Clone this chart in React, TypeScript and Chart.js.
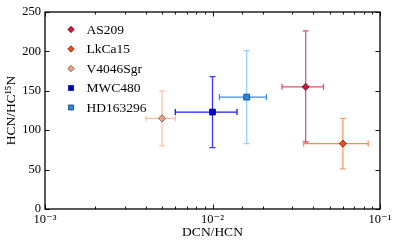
import React, { useEffect, useRef } from "react";
import { Chart, registerables } from "chart.js";

Chart.register(...registerables);

const names = ["AS209", "LkCa15", "V4046Sgr", "MWC480", "HD163296"];
const dcnHcn = [0.036, 0.06, 0.005, 0.01, 0.016];
const dcnLo = [0.026, 0.035, 0.004, 0.006, 0.011];
const dcnHi = [0.046, 0.085, 0.006, 0.014, 0.021];
const hcnRatio = [155, 83, 115, 123, 142];
const ratioLo = [85, 51, 80, 78, 83];
const ratioHi = [226, 115, 150, 168, 201];
const yTicks = [0, 50, 100, 150, 200, 250];

const markerFill = ["#d2143c", "#ff4a10", "#f5a080", "#0000d0", "#2a88e0"];
const markerEdge = ["#3a1010", "#3a1a10", "#5a4030", "#000060", "#103060"];
const markerStyle = ["rectRot", "rectRot", "rectRot", "rect", "rect"];
const xBarColor = ["#e0506e", "#ff8a5c", "#ffbfa0", "#1a1aff", "#3a8ee8"];
const yBarColor = ["#d9587a", "#ff9a70", "#ffc4a8", "#3a3aff", "#9ccfff"];

const FONT = "'Liberation Serif', 'DejaVu Serif', serif";

const isPow10 = (v: number) => {
  const l = Math.log10(v);
  return Math.abs(l - Math.round(l)) < 1e-9;
};
const supMap: Record<string, string> = { "-": "⁻", "0": "⁰", "1": "¹", "2": "²", "3": "³", "4": "⁴", "5": "⁵", "6": "⁶", "7": "⁷", "8": "⁸", "9": "⁹" };
const fmtPow = (v: number) => "10" + String(Math.round(Math.log10(v))).split("").map((c) => supMap[c] || c).join("");

function drawMarker(ctx: CanvasRenderingContext2D, style: string, x: number, y: number, r: number, fill: string, edge: string) {
  ctx.beginPath();
  if (style === "rectRot") {
    ctx.moveTo(x, y - r);
    ctx.lineTo(x + r, y);
    ctx.lineTo(x, y + r);
    ctx.lineTo(x - r, y);
    ctx.closePath();
  } else {
    const s = r * Math.SQRT1_2;
    ctx.rect(x - s, y - s, 2 * s, 2 * s);
  }
  ctx.fillStyle = fill;
  ctx.fill();
  ctx.lineWidth = 0.7;
  ctx.strokeStyle = edge;
  ctx.stroke();
}

const errorBarPlugin = {
  id: "errorBars",
  beforeDatasetsDraw(chart: any) {
    const ctx = chart.ctx as CanvasRenderingContext2D;
    const xs = chart.scales.x;
    const ys = chart.scales.y;
    const cap = 3;
    ctx.save();
    ctx.lineWidth = 1.3;
    for (let i = 0; i < names.length; i++) {
      const px = xs.getPixelForValue(dcnHcn[i]);
      const py = ys.getPixelForValue(hcnRatio[i]);
      const x0 = xs.getPixelForValue(dcnLo[i]);
      const x1 = xs.getPixelForValue(dcnHi[i]);
      const y0 = ys.getPixelForValue(ratioLo[i]);
      const y1 = ys.getPixelForValue(ratioHi[i]);
      ctx.strokeStyle = yBarColor[i];
      ctx.beginPath();
      ctx.moveTo(px, y0);
      ctx.lineTo(px, y1);
      ctx.moveTo(px - cap, y0);
      ctx.lineTo(px + cap, y0);
      ctx.moveTo(px - cap, y1);
      ctx.lineTo(px + cap, y1);
      ctx.stroke();
      ctx.strokeStyle = xBarColor[i];
      ctx.beginPath();
      ctx.moveTo(x0, py);
      ctx.lineTo(x1, py);
      ctx.moveTo(x0, py - cap);
      ctx.lineTo(x0, py + cap);
      ctx.moveTo(x1, py - cap);
      ctx.lineTo(x1, py + cap);
      ctx.stroke();
    }
    ctx.restore();
  },
};

const framePlugin = {
  id: "frameTicks",
  afterDraw(chart: any) {
    const ctx = chart.ctx as CanvasRenderingContext2D;
    const { left, right, top, bottom } = chart.chartArea;
    const xs = chart.scales.x;
    const ys = chart.scales.y;
    ctx.save();
    ctx.strokeStyle = "#111";
    ctx.lineWidth = 1;
    ctx.beginPath();
    for (const t of xs.ticks) {
      const v = t.value;
      if (v < xs.min - 1e-12 || v > xs.max + 1e-12) continue;
      const p = Math.round(xs.getPixelForValue(v)) + 0.5;
      const len = isPow10(v) ? 4.5 : 2.5;
      ctx.moveTo(p, bottom);
      ctx.lineTo(p, bottom - len);
      ctx.moveTo(p, top);
      ctx.lineTo(p, top + len);
    }
    for (const t of ys.ticks) {
      const p = Math.round(ys.getPixelForValue(t.value)) + 0.5;
      ctx.moveTo(left, p);
      ctx.lineTo(left + 4.5, p);
      ctx.moveTo(right, p);
      ctx.lineTo(right - 4.5, p);
    }
    ctx.stroke();
    ctx.lineWidth = 1.3;
    ctx.strokeStyle = "#000";
    ctx.strokeRect(left, top, right - left, bottom - top);
    ctx.font = `13.5px ${FONT}`;
    ctx.textBaseline = "middle";
    ctx.textAlign = "left";
    for (let i = 0; i < names.length; i++) {
      const ly = top + 17.5 + i * 19.5;
      const r = markerStyle[i] === "rectRot" ? 3.2 : 3.6;
      drawMarker(ctx, markerStyle[i], left + 26, ly, r, markerFill[i], markerEdge[i]);
      ctx.fillStyle = "#000";
      ctx.fillText(names[i], left + 41.5, ly + 0.5);
    }
    ctx.restore();
  },
};

export default function App() {
  const ref = useRef<HTMLCanvasElement | null>(null);
  useEffect(() => {
    document.body.style.margin = "0";
    const canvas = ref.current!;
    const chart = new Chart(canvas, {
      type: "scatter",
      data: {
        datasets: names.map((n, i) => ({
          label: n,
          data: [{ x: dcnHcn[i], y: hcnRatio[i] }],
          pointStyle: markerStyle[i] as any,
          pointRadius: markerStyle[i] === "rectRot" ? 3.6 : 4.2,
          pointBackgroundColor: markerFill[i],
          pointBorderColor: markerEdge[i],
          pointBorderWidth: 0.7,
          showLine: false,
        })),
      },
      options: {
        responsive: false,
        animation: false,
        devicePixelRatio: 1,
        layout: { padding: { top: 12, right: 19, left: 0, bottom: 0 } },
        plugins: { legend: { display: false }, tooltip: { enabled: false } },
        scales: {
          x: {
            type: "logarithmic",
            min: 0.001,
            max: 0.1,
            grid: { display: false, drawTicks: false },
            border: { display: false },
            ticks: {
              autoSkip: false,
              maxRotation: 0,
              padding: 3,
              color: "#000",
              font: { family: FONT, size: 12.5 },
              callback: (v: any) => (isPow10(Number(v)) ? fmtPow(Number(v)) : ""),
            },
            title: {
              display: true,
              text: "DCN/HCN",
              color: "#000",
              font: { family: FONT, size: 13.5 },
              padding: { top: 0, bottom: 6 },
            },
            afterFit: (s: any) => {
              s.height = 38;
            },
          },
          y: {
            min: 0,
            max: 250,
            afterBuildTicks: (s: any) => {
              s.ticks = yTicks.map((v) => ({ value: v }));
            },
            grid: { display: false, drawTicks: false },
            border: { display: false },
            ticks: {
              padding: 4,
              color: "#000",
              font: { family: FONT, size: 12.5 },
            },
            title: {
              display: true,
              text: "HCN/HC¹⁵N",
              color: "#000",
              font: { family: FONT, size: 13.5 },
              padding: { top: 3, bottom: 0 },
            },
            afterFit: (s: any) => {
              s.width = 45;
            },
          },
        },
      },
      plugins: [errorBarPlugin, framePlugin],
    });
    return () => chart.destroy();
  }, []);
  return <canvas ref={ref} width={399} height={247} style={{ display: "block" }} />;
}
